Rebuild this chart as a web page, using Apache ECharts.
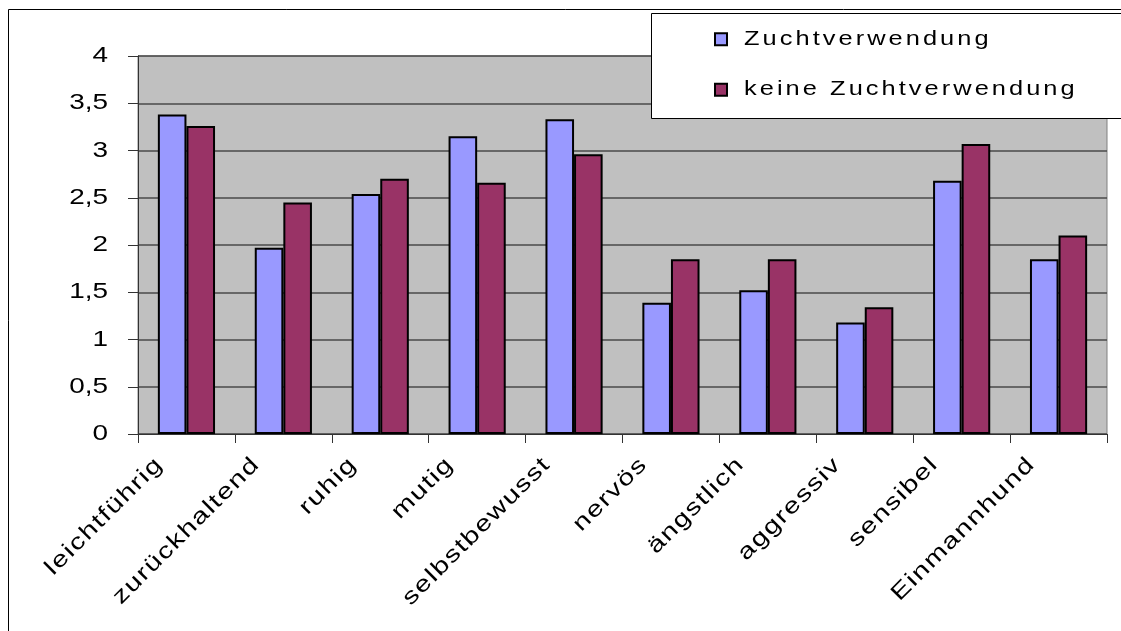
<!DOCTYPE html>
<html>
<head>
<meta charset="utf-8">
<script src="https://cdn.jsdelivr.net/npm/echarts@6/dist/echarts.min.js"></script>
<style>
  html, body { margin: 0; padding: 0; background: #ffffff; }
  #chart { width: 1121px; height: 631px; }
</style>
</head>
<body>
<div id="chart"></div>
<script>
// Temperament ratings of dogs, used vs. not used for breeding
const categories = ['leichtführig', 'zurückhaltend', 'ruhig', 'mutig', 'selbstbewusst',
                    'nervös', 'ängstlich', 'aggressiv', 'sensibel', 'Einmannhund'];
const seriesNames = ['Zuchtverwendung', 'keine Zuchtverwendung'];
const zuchtverwendung = [3.38, 1.97, 2.54, 3.15, 3.33, 1.39, 1.52, 1.18, 2.68, 1.85];
const keineZuchtverwendung = [3.26, 2.45, 2.70, 2.66, 2.96, 1.85, 1.85, 1.34, 3.07, 2.10];
const yTicks = [0, 0.5, 1, 1.5, 2, 2.5, 3, 3.5, 4];

const FONT = '"Liberation Sans", Arial, sans-serif';

// Wide lettering: glyphs are stretched horizontally, with extra tracking per font size
const TEXT_STRETCH = 1.27;
function trackingFor(font) {
  const m = /(\d+(?:\.\d+)?)px/.exec(font || '');
  const size = m ? parseFloat(m[1]) : 12;
  if (size === 22.5) return 1.2;
  if (size === 20) return 2.4;
  return 0;
}
const measureCtx = document.createElement('canvas').getContext('2d');
echarts.setPlatformAPI({
  measureText(text, font) {
    measureCtx.font = font || '12px sans-serif';
    measureCtx.letterSpacing = trackingFor(measureCtx.font) + 'px';
    const m = measureCtx.measureText(text);
    return {
      width: m.width * TEXT_STRETCH,
      actualBoundingBoxAscent: m.actualBoundingBoxAscent,
      actualBoundingBoxDescent: m.actualBoundingBoxDescent,
      actualBoundingBoxLeft: m.actualBoundingBoxLeft * TEXT_STRETCH,
      actualBoundingBoxRight: m.actualBoundingBoxRight * TEXT_STRETCH,
      fontBoundingBoxAscent: m.fontBoundingBoxAscent,
      fontBoundingBoxDescent: m.fontBoundingBoxDescent
    };
  }
});
const baseFillText = CanvasRenderingContext2D.prototype.fillText;
CanvasRenderingContext2D.prototype.fillText = function (text, x, y, maxWidth) {
  this.save();
  this.letterSpacing = trackingFor(this.font) + 'px';
  this.translate(x, y);
  this.scale(TEXT_STRETCH, 1);
  if (maxWidth === undefined) {
    baseFillText.call(this, text, 0, 0);
  } else {
    baseFillText.call(this, text, 0, 0, maxWidth / TEXT_STRETCH);
  }
  this.restore();
};

const chart = echarts.init(document.getElementById('chart'), null, { renderer: 'canvas' });

chart.setOption({
  animation: false,
  backgroundColor: '#ffffff',
  textStyle: { fontFamily: FONT },
  graphic: [
    {
      type: 'rect', z: 1, silent: true,
      shape: { x: 8.5, y: 9.5, width: 1200, height: 700 },
      style: { fill: 'none', stroke: '#000000', lineWidth: 1 }
    },
    {
      type: 'rect', z: 20, silent: true,
      shape: { x: 651.5, y: 13.5, width: 600, height: 105 },
      style: { fill: '#ffffff', stroke: '#000000', lineWidth: 1 }
    }
  ],
  legend: {
    z: 30,
    orient: 'vertical',
    left: 714,
    top: 25,
    padding: 0,
    itemWidth: 12,
    itemHeight: 12,
    itemGap: 22,
    icon: 'rect',
    textStyle: { fontFamily: FONT, fontSize: 20, lineHeight: 20, color: '#000000', padding: [0, 0, 0, 12] },
    data: seriesNames
  },
  grid: {
    left: 138,
    right: 14,
    top: 56,
    bottom: 197,
    show: true,
    backgroundColor: '#C0C0C0',
    borderColor: '#808080',
    borderWidth: 1
  },
  xAxis: {
    type: 'category',
    data: categories,
    axisLine: { show: true, lineStyle: { color: '#333333', width: 1 } },
    axisTick: { show: true, length: 9, alignWithLabel: false, lineStyle: { color: '#333333' } },
    axisLabel: {
      interval: 0,
      rotate: 45,
      margin: 0,
      padding: [0, 38, 0, 0],
      fontFamily: FONT,
      fontSize: 22.5,
      color: '#000000'
    },
    splitLine: { show: false }
  },
  yAxis: {
    type: 'value',
    min: yTicks[0],
    max: yTicks[yTicks.length - 1],
    interval: yTicks[1] - yTicks[0],
    axisLine: { show: true, lineStyle: { color: '#333333', width: 1 } },
    axisTick: { show: true, length: 10, lineStyle: { color: '#333333' } },
    axisLabel: {
      margin: 30,
      fontFamily: FONT,
      fontSize: 22,
      color: '#000000',
      formatter: v => String(v).replace('.', ',')
    },
    splitLine: { show: true, lineStyle: { color: '#4a4a4a', width: 1.5 } }
  },
  series: [
    {
      name: seriesNames[0],
      type: 'bar',
      data: zuchtverwendung,
      barGap: '0%',
      barCategoryGap: '41%',
      itemStyle: { color: '#9999FF', borderColor: '#000000', borderWidth: 2 }
    },
    {
      name: seriesNames[1],
      type: 'bar',
      data: keineZuchtverwendung,
      barGap: '0%',
      barCategoryGap: '41%',
      itemStyle: { color: '#993366', borderColor: '#000000', borderWidth: 2 }
    }
  ]
});
</script>
</body>
</html>
